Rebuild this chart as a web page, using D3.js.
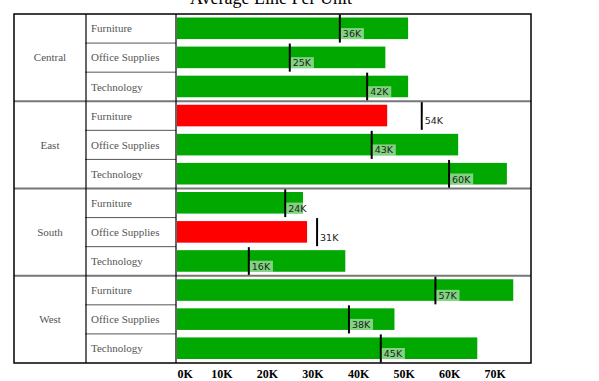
<!DOCTYPE html>
<html>
<head>
<meta charset="utf-8">
<script src="https://cdn.jsdelivr.net/npm/d3@7"></script>
<style>
  body { margin: 0; background: #fff; }
  svg { display: block; }
</style>
</head>
<body>
<svg id="chart" width="599" height="381"></svg>
<script>
// data, values in thousands
const regions = ["Central", "East", "South", "West"];
const categories = ["Furniture", "Office Supplies", "Technology"];
const actual = [51, 46, 51, 46.4, 62, 72.7, 27.9, 28.8, 37.2, 74.1, 48, 66.2];
const target = [36, 25, 42, 54, 43, 60, 24, 31, 16, 57, 38, 45];
const xTicks = [0, 10, 20, 30, 40, 50, 60, 70];
const title = "Average Line Per Unit";

const rows = [];
regions.forEach((r, i) => {
  categories.forEach((c, j) => {
    const k = i * categories.length + j;
    rows.push({ key: r + "|" + c, region: r, category: c, actual: actual[k], target: target[k] });
  });
});

const box = { left: 14, top: 14, right: 531, bottom: 363 };
const col1 = 86, col2 = 176;

const svg = d3.select("#chart");

const x = d3.scaleLinear().domain([0, 78]).range([col2, box.right]);
const y = d3.scaleBand().domain(rows.map((d) => d.key)).range([box.top, box.bottom]);
const yRegion = d3.scaleBand().domain(regions).range([box.top, box.bottom]);

// title (mostly cut off at the top)
svg.append("text")
  .attr("x", 271)
  .attr("y", 4)
  .attr("text-anchor", "middle")
  .style("font-family", "Liberation Serif")
  .style("font-size", "18px")
  .attr("fill", "#000")
  .text(title);

// bars
svg.append("g")
  .selectAll("rect")
  .data(rows)
  .join("rect")
  .attr("x", x(0) + 1)
  .attr("y", (d) => y(d.key) + 3.5)
  .attr("width", (d) => x(d.actual) - x(0) - 1)
  .attr("height", y.bandwidth() - 7.5)
  .attr("fill", (d) => (d.actual < d.target ? "#ff0000" : "#00a800"));

// target markers + labels
const tg = svg.append("g").selectAll("g").data(rows).join("g");

tg.append("line")
  .attr("x1", (d) => x(d.target))
  .attr("x2", (d) => x(d.target))
  .attr("y1", (d) => y(d.key) + 0.5)
  .attr("y2", (d) => y(d.key) + y.bandwidth() - 0.5)
  .attr("stroke", "#000")
  .attr("stroke-width", 2);

tg.append("rect")
  .attr("class", "lblbg")
  .attr("x", (d) => x(d.target) + 1)
  .attr("y", (d) => y(d.key) + y.bandwidth() - 15)
  .attr("height", 11)
  .attr("fill", "#fff")
  .attr("fill-opacity", 0.5);

tg.append("text")
  .attr("x", (d) => x(d.target) + 3)
  .attr("y", (d) => y(d.key) + y.bandwidth() - 6)
  .style("font-family", "DejaVu Sans")
  .style("font-size", "9.5px")
  .attr("fill", "#222")
  .text((d) => d.target + "K");

tg.each(function () {
  const w = d3.select(this).select("text").node().getBBox().width;
  d3.select(this).select(".lblbg").attr("width", w + 4);
});

// table lines
const grid = svg.append("g").attr("fill", "none");

// sub-row separators in category column
rows.forEach((d, i) => {
  if (i % categories.length === 0) return;
  grid.append("line")
    .attr("x1", col1 - 1).attr("x2", col2)
    .attr("y1", y(d.key)).attr("y2", y(d.key))
    .attr("stroke", "#555").attr("stroke-width", 1);
});

// region separators
regions.slice(1).forEach((r) => {
  grid.append("line")
    .attr("x1", box.left).attr("x2", box.right)
    .attr("y1", yRegion(r)).attr("y2", yRegion(r))
    .attr("stroke", "#777").attr("stroke-width", 2);
});

[col1, col2].forEach((cx) => {
  grid.append("line")
    .attr("x1", cx).attr("x2", cx)
    .attr("y1", box.top).attr("y2", box.bottom)
    .attr("stroke", "#000").attr("stroke-width", 1.2);
});

grid.append("rect")
  .attr("x", box.left).attr("y", box.top)
  .attr("width", box.right - box.left).attr("height", box.bottom - box.top)
  .attr("stroke", "#000").attr("stroke-width", 1.5);

// row labels
svg.append("g")
  .selectAll("text")
  .data(regions)
  .join("text")
  .attr("x", (box.left + col1) / 2)
  .attr("y", (d) => yRegion(d) + yRegion.bandwidth() / 2)
  .attr("dy", "0.35em")
  .attr("text-anchor", "middle")
  .style("font-family", "Liberation Serif")
  .style("font-size", "11px")
  .attr("fill", "#555")
  .text((d) => d);

svg.append("g")
  .selectAll("text")
  .data(rows)
  .join("text")
  .attr("x", col1 + 5)
  .attr("y", (d) => y(d.key) + y.bandwidth() / 2)
  .attr("dy", "0.35em")
  .style("font-family", "Liberation Serif")
  .style("font-size", "11px")
  .attr("fill", "#555")
  .text((d) => d.category);

// x axis
const ax = svg.append("g")
  .attr("transform", `translate(0, ${box.bottom})`)
  .call(d3.axisBottom(x).tickValues(xTicks).tickFormat((d) => d + "K").tickSize(0).tickPadding(6));
ax.select(".domain").remove();
ax.selectAll("text")
  .style("font-family", "Liberation Serif")
  .style("font-size", "12px")
  .style("font-weight", "bold")
  .attr("fill", "#000");
ax.selectAll(".tick").filter((d) => d === 0).select("text")
  .attr("text-anchor", "start").attr("x", 1);
</script>
</body>
</html>
